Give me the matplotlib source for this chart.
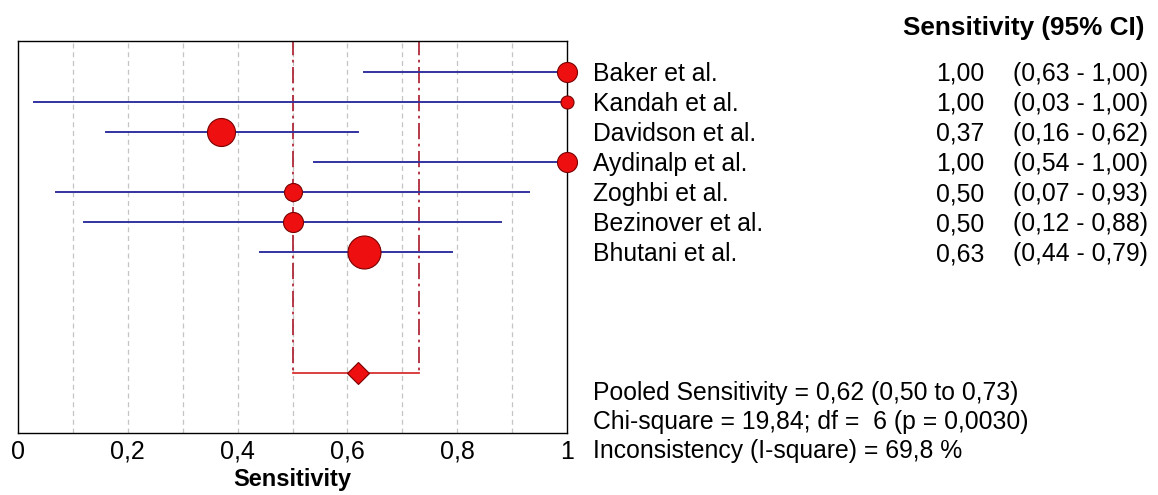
import matplotlib
matplotlib.use("Agg")
import matplotlib.pyplot as plt
from matplotlib.transforms import blended_transform_factory

plt.rcParams["font.family"] = ["Liberation Sans", "DejaVu Sans"]

# Study-level estimates
studies = ["Baker et al.", "Kandah et al.", "Davidson et al.", "Aydinalp et al.",
           "Zoghbi et al.", "Bezinover et al.", "Bhutani et al."]
sensitivity = [1.00, 1.00, 0.37, 1.00, 0.50, 0.50, 0.63]
ci_low = [0.63, 0.03, 0.16, 0.54, 0.07, 0.12, 0.44]
ci_high = [1.00, 1.00, 0.62, 1.00, 0.93, 0.88, 0.79]

# Pooled estimate and heterogeneity
pooled = 0.62
pooled_low = 0.50
pooled_high = 0.73
chi_square = 19.84
df = 6
p_value = 0.0030
i_square = 69.8

x_ticks = [0, 0.2, 0.4, 0.6, 0.8, 1.0]
x_tick_labels = ["0", "0,2", "0,4", "0,6", "0,8", "1"]

# Marker diameters (px) reflect study weight
marker_px = [20, 13, 28, 20, 18, 20, 33]


def fmt(v, nd=2):
    return f"{v:.{nd}f}".replace(".", ",")


W, H, DPI = 1158, 495, 100
fig = plt.figure(figsize=(W / DPI, H / DPI), dpi=DPI)
ax = fig.add_axes([18 / W, 1 - 433 / H, (567 - 18) / W, (433 - 41) / H])

rows = list(range(len(studies)))
pooled_row = 10

# vertical grid
for g in [0.1, 0.2, 0.3, 0.4, 0.5, 0.6, 0.7, 0.8, 0.9]:
    ax.axvline(g, color="#c4c4c4", lw=0.9, ls=(0, (4, 3)), zorder=0)

# pooled CI bounds
for b in (pooled_low, pooled_high):
    ax.plot([b, b], [-1.1, pooled_row], color="#b02a3a", lw=1.3,
            ls=(0, (9, 2.5, 1.5, 2.5)), zorder=1)
ax.plot([pooled_low, pooled_high], [pooled_row, pooled_row], color="#d83030", lw=1.3, zorder=2)
ax.plot([pooled], [pooled_row], marker="D", ms=15.5 * 0.72, mfc="#ee1010", mec="#7a0000",
        mew=0.8, zorder=3)

# study CIs and points
for r, s, lo, hi, d in zip(rows, sensitivity, ci_low, ci_high, marker_px):
    ax.plot([lo, hi], [r, r], color="#3333a0", lw=1.4, zorder=2)
    ax.plot([s], [r], marker="o", ms=d * 0.72, mfc="#ee1010", mec="#7a0000",
            mew=0.8, zorder=3, clip_on=False)

ax.set_xlim(0, 1)
ax.set_ylim(12.0, -1.03)
ax.set_yticks([])
ax.set_xticks(x_ticks)
ax.set_xticklabels(x_tick_labels, fontsize=18)
ax.tick_params(axis="x", length=0, pad=5)
for sp in ax.spines.values():
    sp.set_linewidth(1.0)
    sp.set_color("black")
ax.set_xlabel("Sensitivity", fontsize=17, fontweight="bold", labelpad=3)

# right-hand table (text placed on its baseline so rows line up)
tr = blended_transform_factory(fig.transFigure, ax.transData)
fs = 17.8
half_cap = 0.29  # half cap height in row units
for r, name, s, lo, hi in zip(rows, studies, sensitivity, ci_low, ci_high):
    yb = r + half_cap
    ax.text(593 / W, yb, name, transform=tr, fontsize=fs, va="baseline", ha="left")
    ax.text(984 / W, yb, fmt(s), transform=tr, fontsize=fs, va="baseline", ha="right")
    ax.text(1013 / W, yb, f"({fmt(lo)} - {fmt(hi)})", transform=tr, fontsize=fs,
            va="baseline", ha="left")

fig.text(903 / W, 1 - 35 / H, "Sensitivity (95% CI)", fontsize=18.8, fontweight="bold",
         va="baseline", ha="left")

summary = [
    f"Pooled Sensitivity = {fmt(pooled)} ({fmt(pooled_low)} to {fmt(pooled_high)})",
    f"Chi-square = {fmt(chi_square)}; df =  {df} (p = {fmt(p_value, 4)})",
    f"Inconsistency (I-square) = {fmt(i_square, 1)} %",
]
for i, line in enumerate(summary):
    fig.text(593 / W, 1 - (400 + 29 * i) / H, line, fontsize=fs, va="baseline", ha="left")

fig.savefig("out.png", dpi=DPI)
